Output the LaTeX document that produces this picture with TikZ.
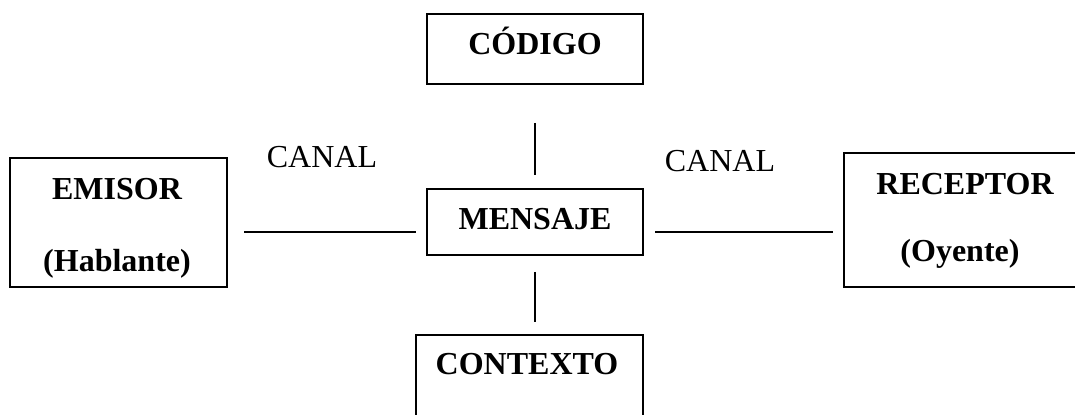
\documentclass[tikz,border=0pt]{standalone}
\usepackage{fontspec}
\setmainfont{Liberation Serif}
\begin{document}
\begin{tikzpicture}[x=0.5pt,y=-0.5pt,
  box/.style={draw,line width=1pt,inner sep=0pt,outer sep=0pt,rectangle},
  lbl/.style={font=\fontsize{16}{19}\selectfont\bfseries,anchor=base,inner sep=0pt},
  canal/.style={font=\fontsize{16}{19}\selectfont,anchor=base,inner sep=0pt},
  link/.style={line width=1pt}]
\useasboundingbox (0,0) rectangle (1075,415);
\clip (0,0) rectangle (1075,415);
% boxes
\node[box,minimum width=108pt,minimum height=35pt] (codigo) at (535,49) {};
\node[box,minimum width=108pt,minimum height=33pt] (mensaje) at (535,222) {};
\node[box,minimum width=113.5pt,minimum height=52.5pt] (contexto) at (529.5,387.5) {};
\node[box,minimum width=108.5pt,minimum height=64.5pt] (emisor) at (118.5,222.5) {};
\node[box,minimum width=125.5pt,minimum height=67pt] (receptor) at (969.5,220) {};
% texts
\node[lbl] (tcodigo) at (535,55) {CÓDIGO};
\node[lbl] (tmensaje) at (535,230) {MENSAJE};
\node[lbl] (tcontexto) at (527,375) {CONTEXTO};
\node[lbl] (temisor) at (117,200) {EMISOR};
\node[lbl] (thablante) at (117,272) {(Hablante)};
\node[lbl] (treceptor) at (965,195) {RECEPTOR};
\node[lbl] (toyente) at (960,262) {(Oyente)};
\node[canal] (canal1) at (322,168) {CANAL};
\node[canal] (canal2) at (720,172) {CANAL};
% connector ends
\coordinate (l1a) at (244,232);
\coordinate (l1b) at (416,232);
\coordinate (l2a) at (655,232);
\coordinate (l2b) at (833,232);
\coordinate (v1a) at (535,123);
\coordinate (v1b) at (535,175);
\coordinate (v2a) at (535,272);
\coordinate (v2b) at (535,322);
\draw[link] (l1a) -- (l1b);
\draw[link] (l2a) -- (l2b);
\draw[link] (v1a) -- (v1b);
\draw[link] (v2a) -- (v2b);
\end{tikzpicture}
\end{document}
